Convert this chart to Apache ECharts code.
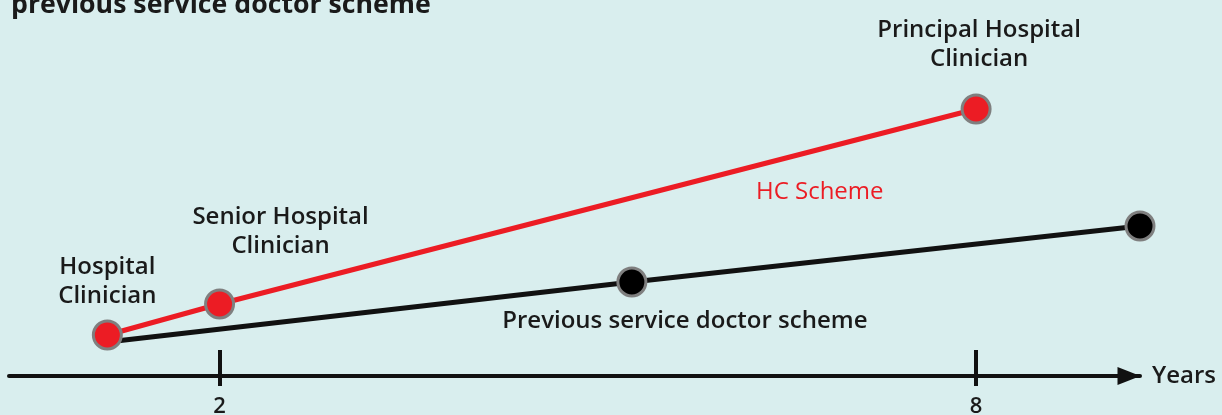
<!DOCTYPE html>
<html>
<head>
<meta charset="utf-8">
<script src="https://cdn.jsdelivr.net/npm/echarts@6/dist/echarts.min.js"></script>
<style>
html,body{margin:0;padding:0;background:#d9eeee;}
#c{width:1222px;height:415px;}
</style>
</head>
<body>
<div id="c"></div>
<script>
// Data (years on x, relative career/pay level on y)
const titleText = 'previous service doctor scheme';
const hcYears = [1.11, 2.0, 8.0];
const hcLevels = [41, 72, 267];
const hcRoles = ['Hospital\nClinician', 'Senior Hospital\nClinician', 'Principal Hospital\nClinician'];
const prevYears = [1.11, 5.27, 9.3];
const prevLevels = [34, 94, 150];
const tickYears = [2, 8];
const axisName = 'Years';
const hcName = 'HC Scheme';
const prevName = 'Previous service doctor scheme';
const hcLabelAt = [6.76, 184];
const prevLabelAt = [5.69, 55];

const FONT = '"Open Sans", "Noto Sans", sans-serif';
const RED = '#ec1c24';
const INK = '#111111';
const TXT = '#1a1a1a';

const roleOffsets = [[0, -53], [61, -72], [3, -64]];

const hcData = hcYears.map((x, i) => ({
  value: [x, hcLevels[i]],
  label: {
    show: true,
    formatter: hcRoles[i],
    position: 'inside',
    offset: roleOffsets[i],
    align: 'center',
    verticalAlign: 'middle',
    fontFamily: FONT,
    fontSize: 24,
    fontWeight: 600,
    lineHeight: 29,
    color: TXT
  }
}));

const prevData = prevYears.map((x, i) => ({
  value: [x, prevLevels[i]],
  symbolSize: i === 0 ? 0 : 28
}));

const chart = echarts.init(document.getElementById('c'), null, {renderer: 'canvas'});
chart.setOption({
  backgroundColor: '#d9eeee',
  animation: false,
  title: {
    text: titleText,
    left: 6,
    top: -13,
    textStyle: {fontFamily: FONT, fontSize: 26.7, fontWeight: 700, color: TXT}
  },
  grid: {left: 9, right: 82, top: 0, bottom: 39, containLabel: false, outerBoundsMode: 'none'},
  xAxis: [{
    type: 'value',
    min: 0.33,
    max: 9.3,
    position: 'bottom',
    axisLine: {
      show: true,
      lineStyle: {color: INK, width: 4},
      symbol: ['none', 'triangle'],
      symbolSize: [18, 23],
      symbolOffset: [0, -11]
    },
    axisTick: {show: true, inside: true, length: 26, customValues: tickYears, lineStyle: {color: INK, width: 4}},
    axisLabel: {show: false},
    splitLine: {show: false},
    name: axisName,
    nameLocation: 'end',
    nameGap: 12,
    nameTextStyle: {fontFamily: FONT, fontSize: 24, fontWeight: 600, color: TXT, verticalAlign: 'middle', align: 'left'}
  }, {
    type: 'value',
    min: 0.33,
    max: 9.3,
    position: 'bottom',
    offset: 0,
    axisLine: {show: false},
    axisTick: {show: true, inside: false, length: 10, customValues: tickYears, lineStyle: {color: INK, width: 4}},
    axisLabel: {show: true, customValues: tickYears, margin: 20, fontFamily: FONT, fontSize: 22, fontWeight: 600, color: TXT},
    splitLine: {show: false}
  }],
  yAxis: {type: 'value', min: 0, max: 376, show: false},
  series: [{
    type: 'line',
    name: prevName,
    data: prevData,
    z: 3,
    clip: false,
    symbol: 'circle',
    symbolSize: 28,
    lineStyle: {color: INK, width: 5},
    itemStyle: {color: '#000000', borderColor: '#7f7f7f', borderWidth: 3},
    markPoint: {
      symbol: 'circle',
      symbolSize: 0,
      data: [{coord: prevLabelAt, value: prevName}],
      label: {show: true, position: 'inside', formatter: prevName, fontFamily: FONT, fontSize: 24, fontWeight: 600, color: TXT}
    }
  }, {
    type: 'line',
    name: hcName,
    data: hcData,
    z: 4,
    clip: false,
    symbol: 'circle',
    symbolSize: 28,
    lineStyle: {color: RED, width: 5},
    itemStyle: {color: RED, borderColor: '#7f7f7f', borderWidth: 3},
    markPoint: {
      symbol: 'circle',
      symbolSize: 0,
      data: [{coord: hcLabelAt, value: hcName}],
      label: {show: true, position: 'inside', formatter: hcName, fontFamily: FONT, fontSize: 24, fontWeight: 400, color: RED}
    }
  }]
});
</script>
</body>
</html>
